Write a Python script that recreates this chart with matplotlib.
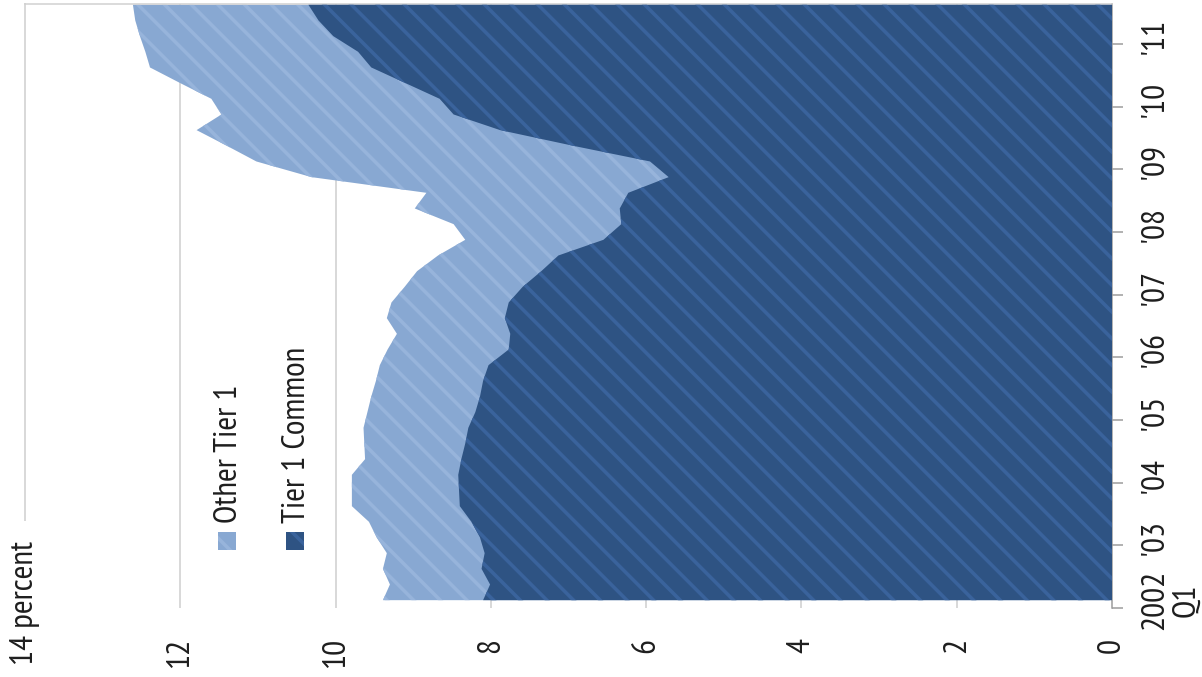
import numpy as np
import matplotlib
matplotlib.use("Agg")
import matplotlib.pyplot as plt
from matplotlib.patches import Rectangle
from matplotlib.transforms import blended_transform_factory

# ---------------- data ----------------
quarters = np.arange(39)  # 2002 Q1 ... 2011 Q3
tier1_common = [8.10, 8.01, 8.12, 8.08, 8.14, 8.25, 8.40, 8.41, 8.42, 8.38,
                8.33, 8.29, 8.20, 8.14, 8.10, 8.03, 7.77, 7.75, 7.82, 7.77,
                7.59, 7.35, 7.13, 6.55, 6.32, 6.34, 6.23, 5.71, 5.95, 6.94,
                7.88, 8.48, 8.66, 9.10, 9.54, 9.71, 10.03, 10.22, 10.35]
other_tier1 = [1.29, 1.29, 1.27, 1.26, 1.33, 1.32, 1.39, 1.38, 1.37, 1.24,
               1.30, 1.35, 1.39, 1.40, 1.38, 1.40, 1.56, 1.46, 1.52, 1.51,
               1.52, 1.60, 1.55, 1.78, 2.16, 2.64, 2.60, 4.60, 5.07, 4.46,
               3.91, 2.99, 2.94, 2.90, 2.85, 2.74, 2.49, 2.36, 2.26]
year_labels = ["2002\nQ1", "'03", "'04", "'05", "'06", "'07", "'08", "'09", "'10", "'11"]
pct_ticks = [0, 2, 4, 6, 8, 10, 12]
pct_labels = ["0", "2", "4", "6", "8", "10", "12"]
top_label = "14 percent"
series_names = ["Other Tier 1", "Tier 1 Common"]

# ---------------- style ----------------
DPI = 80
W, H = 1202, 677
DARK, DARK_STRIPE = "#2e5383", "#3a639c"
LIGHT, LIGHT_STRIPE = "#88a8d2", "#97b4db"
GRID = "#d9d9d9"
TXT = "#1e1e1e"
FS = 30

plt.rcParams["font.family"] = ["PT Sans Narrow", "Liberation Sans", "DejaVu Sans"]
plt.rcParams["hatch.linewidth"] = 3.2

fig = plt.figure(figsize=(W / DPI, H / DPI), dpi=DPI)
ax = fig.add_axes([25 / W, 1 - 608 / H, (1112 - 25) / W, (608 - 4) / H])

common = np.array(tier1_common)
total = common + np.array(other_tier1)

ax.fill_betweenx(quarters, 0, total, facecolor=LIGHT, edgecolor=LIGHT_STRIPE,
                 hatch="\\", linewidth=0, zorder=2)
ax.fill_betweenx(quarters, 0, common, facecolor=DARK, edgecolor=DARK_STRIPE,
                 hatch="\\", linewidth=0, zorder=3)

# gridlines
for v in pct_ticks[1:]:
    ax.axvline(v, color=GRID, lw=1.8, zorder=1)
ax.axvline(14, ymin=(608 - 520) / 604, ymax=1, color=GRID, lw=1.8, zorder=1, clip_on=False)

ax.set_xlim(14, 0)
ax.set_ylim(-0.5, 38.05)

for s in ["left", "bottom"]:
    ax.spines[s].set_visible(False)
ax.spines["right"].set_color("#9a9a9a")
ax.spines["right"].set_linewidth(1.35)
ax.spines["top"].set_color("#d0d0d0")
ax.spines["top"].set_linewidth(1.35)

# percent axis
ax.set_xticks(pct_ticks)
ax.set_xticklabels(pct_labels)
ax.tick_params(axis="x", length=0, pad=27, labelsize=FS, labelrotation=90, labelcolor=TXT)

# time axis
ax.yaxis.tick_right()
ax.set_yticks(quarters[::4] - 0.5)
ax.set_yticklabels([""] * len(quarters[::4]))
ax.set_yticks(quarters[::4], minor=True)
ax.set_yticklabels(year_labels, minor=True)
ax.tick_params(axis="y", which="major", length=9.9, width=1.35, color="#9a9a9a", direction="out")
ax.tick_params(axis="y", which="minor", length=0, pad=25.2, labelsize=FS,
               labelrotation=90, labelcolor=TXT)
for lbl in ax.get_yticklabels(minor=True):
    lbl.set_va("center")
    lbl.set_multialignment("center")
    lbl.set_linespacing(1.05)

# "14 percent"
tr = blended_transform_factory(ax.transData, ax.transAxes)
ax.text(14, (608 - 665) / 604, top_label, transform=tr, rotation=90, rotation_mode="anchor",
        ha="left", va="center", fontsize=FS, color=TXT, clip_on=False)


# legend (drawn by hand, rotated)
def fx(px):
    return px / W


def fy(py):
    return 1 - py / H


leg = [(series_names[0], 218, 237, LIGHT, LIGHT_STRIPE),
       (series_names[1], 286, 305, DARK, DARK_STRIPE)]
for name, sx, base, fc, hc in leg:
    fig.add_artist(Rectangle((fx(sx), fy(550)), 18 / W, 18 / H, transform=fig.transFigure,
                             facecolor=fc, edgecolor=hc, hatch="\\", linewidth=0))
    fig.text(fx(base), fy(523), name, rotation=90, rotation_mode="anchor",
             ha="left", va="baseline", fontsize=FS, color=TXT)

fig.savefig("out.png", dpi=DPI)
